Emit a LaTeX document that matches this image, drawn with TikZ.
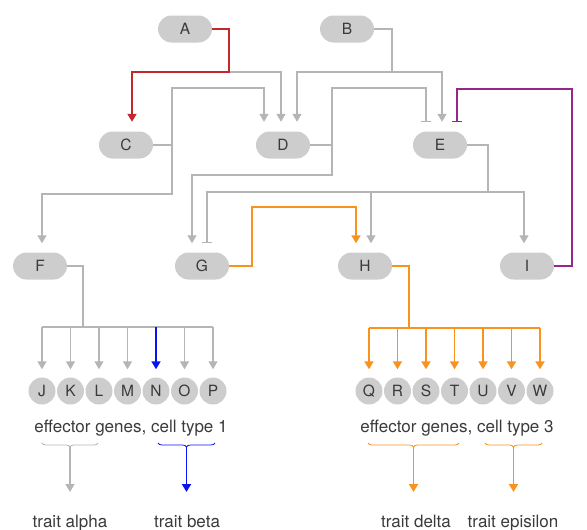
\documentclass[tikz,border=0pt]{standalone}
\usepackage{fontspec}
\setmainfont{TeX Gyre Heros}
\usetikzlibrary{arrows.meta,decorations.pathreplacing}
\definecolor{pill}{HTML}{CDCDCD}
\definecolor{wire}{HTML}{B5B5B5}
\definecolor{ink}{HTML}{3A3A3A}
\definecolor{redlink}{HTML}{C1272D}
\definecolor{purplelink}{HTML}{93278F}
\definecolor{orangelink}{HTML}{F7931E}
\definecolor{bluelink}{HTML}{0A14F0}
\begin{document}
\begin{tikzpicture}[x=1pt,y=-1pt,
  pillnode/.style={fill=pill, rounded corners=13.5pt, minimum width=54pt,
    minimum height=27pt, inner sep=0pt, text=ink,
    font=\fontsize{15.5}{15.5}\selectfont},
  gene/.style={circle, fill=pill, minimum size=27pt, inner sep=0pt, text=ink,
    font=\fontsize{15.5}{15.5}\selectfont},
  caption/.style={text=ink, inner sep=0pt, anchor=base,
    font=\fontsize{17}{17}\selectfont},
  link/.style={draw=wire, line width=1.3pt},
  redl/.style={draw=redlink, line width=1.8pt},
  purl/.style={draw=purplelink, line width=1.8pt},
  orl/.style={draw=orangelink, line width=1.8pt},
  bll/.style={draw=bluelink, line width=1.8pt},
  act/.style={-{Triangle[width=9pt,length=8pt]}},
  inh/.style={-{Bar[width=10pt,line width=1.3pt]}},
  bracel/.style={line width=0.8pt, decorate,
    decoration={brace, mirror, amplitude=4pt}}
]
\useasboundingbox (0,0) rectangle (587,530);

% regulators
\node[pillnode] (A) at (185,29) {A};
\node[pillnode] (B) at (347,29) {B};
\node[pillnode] (C) at (126,145) {C};
\node[pillnode] (D) at (283,145) {D};
\node[pillnode] (E) at (440,145) {E};
\node[pillnode] (F) at (40,266) {F};
\node[pillnode] (G) at (202,266) {G};
\node[pillnode] (H) at (365,266) {H};
\node[pillnode] (I) at (527,266) {I};

% effector genes
\foreach \g [count=\i from 0] in {J,K,L,M,N,O,P}
  \node[gene] (\g) at ({42+28.5*\i},391) {\g};
\foreach \g [count=\i from 0] in {Q,R,S,T,U,V,W}
  \node[gene] (\g) at ({369+28.5*\i},391) {\g};

% branch points
\coordinate (asplit) at (229,72);
\coordinate (bsplit) at (392,72);
\coordinate (ctop) at (172,88);
\coordinate (cbot) at (172,194);
\coordinate (dtop) at (332,88);
\coordinate (dbot) at (332,175);
\coordinate (esplit) at (488,192);
\coordinate (fbar) at (83,327);
\coordinate (hbar) at (409,328);

% A
\draw[link, act] (asplit) -| ([xshift=-2pt,yshift=9.5pt]D.north);
\draw[redl, act] (A.east) -| (asplit) -| ([xshift=6pt,yshift=9.5pt]C.north);
% B
\draw[link, act] (B.east) -| (bsplit) -| ([xshift=14pt,yshift=9.5pt]D.north);
\draw[link, act] (bsplit) -| ([xshift=2pt,yshift=9.5pt]E.north);
% C
\draw[link, act] (C.east) -| (ctop) -| ([xshift=-19pt,yshift=9.5pt]D.north);
\draw[link, act] (C.east) -| (cbot) -| ([xshift=2pt,yshift=9pt]F.north);
% D
\draw[link, inh] (D.east) -| (dtop) -| ([xshift=-14pt,yshift=9.5pt]E.north);
\draw[link, act] (D.east) -| (dbot) -| ([xshift=-10pt,yshift=9pt]G.north);
% E
\draw[link, act] (E.east) -| (esplit) -| ([xshift=-3pt,yshift=9pt]I.north);
\draw[link, act] (esplit) -| ([xshift=6pt,yshift=9pt]H.north);
\draw[link, inh] (esplit) -| ([xshift=5pt,yshift=9pt]G.north);
% I
\draw[purl, inh] (I.east) -| (572,89) -| ([xshift=17pt,yshift=9.5pt]E.north);
% G
\draw[orl, act] (G.east) -| (252,207) -| ([xshift=-9pt,yshift=9pt]H.north);

% F to cell type 1 genes
\draw[link] (F.east) -| (fbar);
\draw[link] (J.north |- fbar) -- (P.north |- fbar);
\foreach \g in {J,K,L,M,O,P}
  \draw[link, act] (\g.north |- fbar) -- ([yshift=8pt]\g.north);
\draw[bll, act] (N.north |- fbar) -- ([yshift=8pt]N.north);

% H to cell type 3 genes
\draw[orl] (H.east) -| (hbar);
\draw[orl] (Q.north |- hbar) -- (W.north |- hbar);
\foreach \g in {Q,R,S,T,U,V,W}
  \draw[orl, act] (\g.north |- hbar) -- ([yshift=8pt]\g.north);

% captions
\node[caption] (ct1) at (131,432) {effector genes, cell type 1};
\node[caption] (ct3) at (457,432) {effector genes, cell type 3};

% traits
\node[caption] (talpha) at (70,527) {trait alpha};
\node[caption] (tbeta) at (187,527) {trait beta};
\node[caption] (tdelta) at (416,527) {trait delta};
\node[caption] (tepsilon) at (513,527) {trait episilon};

% braces and their arrows
\draw[bracel, draw=wire] (42,443) -- (98,443);
\draw[bracel, draw=bluelink] (158,443) -- (215,443);
\draw[bracel, draw=orangelink] (368,443) -- (459,443);
\draw[bracel, draw=orangelink] (485,443) -- (542,443);
\coordinate (b1) at (70,447);
\coordinate (b2) at (186.5,447);
\coordinate (b3) at (413.5,447);
\coordinate (b4) at (513.5,447);
\coordinate (t1) at (70,492);
\coordinate (t2) at (186.5,492);
\coordinate (t3) at (413.5,492);
\coordinate (t4) at (513.5,492);
\draw[link, act] (b1) -- (t1);
\draw[bll, act] (b2) -- (t2);
\draw[orl, act] (b3) -- (t3);
\draw[orl, act] (b4) -- (t4);
\end{tikzpicture}
\end{document}
